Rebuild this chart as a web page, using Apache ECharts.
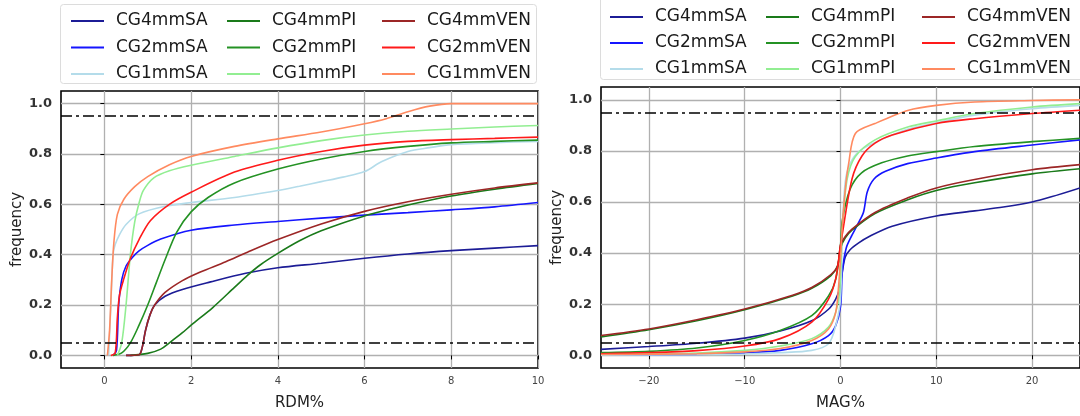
<!DOCTYPE html>
<html>
<head>
<meta charset="utf-8">
<script src="https://cdn.jsdelivr.net/npm/echarts@6/dist/echarts.min.js"></script>
<style>
html,body{margin:0;padding:0;background:#fff;}
#chart{width:1080px;height:416px;}
</style>
</head>
<body>
<div id="chart"></div>
<script>
// ---------- data ----------
const seriesNames = ['CG4mmSA','CG2mmSA','CG1mmSA','CG4mmPI','CG2mmPI','CG1mmPI','CG4mmVEN','CG2mmVEN','CG1mmVEN'];
const yTicks = [0, 0.2, 0.4, 0.6, 0.8, 1.0];
const rdmTicks = [0, 2, 4, 6, 8, 10];
const magTicks = [-20, -10, 0, 10, 20];
const thresholdLines = [0.95, 0.05];

// RDM% (left panel)
const rdm_CG4mmSA = [[0.5,0],[0.8,0.003],[0.87,0.03],[0.95,0.1],[1.05,0.16],[1.16,0.2],[1.4,0.235],[1.8,0.262],[2.45,0.292],[3.26,0.326],[4,0.348],[5,0.366],[6,0.386],[7,0.403],[8,0.416],[9,0.426],[10,0.436]];
const rdm_CG2mmSA = [[0.2,0],[0.28,0.02],[0.33,0.2],[0.4,0.3],[0.5,0.355],[0.65,0.39],[0.8,0.415],[1.0,0.437],[1.3,0.462],[2,0.497],[3,0.518],[4,0.532],[5,0.545],[6,0.557],[7,0.567],[8,0.578],[9,0.59],[10,0.607]];
const rdm_CG1mmSA = [[0.1,0],[0.15,0.2],[0.2,0.4],[0.25,0.44],[0.35,0.48],[0.5,0.52],[0.8,0.562],[1.4,0.592],[2,0.607],[3,0.627],[4,0.655],[4.5,0.672],[5,0.69],[5.5,0.708],[6,0.73],[6.4,0.77],[7,0.81],[7.5,0.825],[8,0.837],[9,0.845],[10,0.85]];
const rdm_CG4mmPI = [[0.6,0],[1.0,0.008],[1.3,0.025],[1.5,0.05],[1.8,0.09],[2,0.12],[2.5,0.19],[3,0.27],[3.3,0.318],[3.6,0.36],[4,0.405],[4.5,0.455],[5,0.495],[6,0.554],[7,0.597],[8,0.633],[9,0.66],[10,0.683]];
const rdm_CG2mmPI = [[0.2,0],[0.4,0.01],[0.6,0.05],[0.8,0.12],[1.0,0.2],[1.2,0.29],[1.4,0.38],[1.67,0.49],[2,0.57],[2.4,0.628],[3,0.685],[4,0.74],[5,0.78],[6,0.81],[7,0.83],[8,0.844],[9,0.85],[10,0.855]];
const rdm_CG1mmPI = [[0.3,0],[0.4,0.05],[0.5,0.2],[0.6,0.4],[0.7,0.53],[0.8,0.605],[0.9,0.655],[1.14,0.705],[1.5,0.733],[2,0.755],[3,0.79],[4,0.824],[5,0.853],[6,0.875],[7,0.89],[8,0.899],[9,0.907],[10,0.913]];
const rdm_CG4mmVEN = [[0.5,0],[0.8,0.003],[0.87,0.03],[0.95,0.1],[1.05,0.16],[1.16,0.2],[1.4,0.25],[1.8,0.297],[2.2,0.33],[2.8,0.372],[3.3,0.41],[4,0.46],[5,0.522],[6,0.572],[7,0.61],[8,0.64],[9,0.665],[10,0.685]];
const rdm_CG2mmVEN = [[0.15,0],[0.25,0.01],[0.3,0.15],[0.35,0.24],[0.45,0.305],[0.6,0.385],[0.8,0.46],[1.06,0.535],[1.5,0.6],[2,0.648],[3,0.728],[4,0.775],[5,0.81],[6,0.835],[7,0.85],[8,0.857],[9,0.862],[10,0.867]];
const rdm_CG1mmVEN = [[0.07,0],[0.12,0.1],[0.17,0.3],[0.22,0.45],[0.3,0.56],[0.45,0.62],[0.7,0.67],[1.0,0.71],[1.5,0.757],[2,0.79],[3,0.83],[4,0.86],[5,0.887],[6,0.92],[6.5,0.94],[7,0.968],[7.5,0.99],[8,1.0],[10,1.0]];

// MAG% (right panel)
const mag_CG4mmSA = [[-25,0.023],[-20,0.034],[-15,0.047],[-10,0.067],[-6.3,0.095],[-3,0.135],[-1.25,0.18],[-0.5,0.22],[-0.1,0.26],[0.2,0.33],[0.5,0.385],[1,0.413],[1.9,0.44],[3,0.465],[5.4,0.505],[10,0.545],[14,0.565],[17,0.58],[20,0.6],[22,0.62],[25,0.655]];
const mag_CG2mmSA = [[-25,0],[-15,0.003],[-10,0.009],[-6.3,0.019],[-3,0.045],[-1.25,0.077],[-0.5,0.116],[0,0.19],[0.2,0.33],[0.6,0.42],[1.2,0.47],[1.9,0.52],[2.4,0.56],[2.8,0.64],[3.5,0.69],[4.7,0.72],[7,0.75],[10,0.772],[14,0.797],[20,0.823],[25,0.843]];
const mag_CG1mmSA = [[-25,0],[-15,0.002],[-10,0.005],[-6.3,0.01],[-3,0.019],[-1.25,0.045],[-0.5,0.116],[0,0.22],[0.2,0.5],[0.5,0.68],[1,0.75],[2,0.8],[4,0.84],[7,0.885],[10,0.91],[14,0.94],[20,0.965],[25,0.978]];
const mag_CG4mmPI = [[-25,0.072],[-20,0.1],[-15,0.135],[-10,0.178],[-5,0.232],[-3,0.262],[-1,0.312],[-0.3,0.35],[0,0.42],[0.5,0.46],[1.2,0.49],[3.6,0.555],[7.1,0.61],[10,0.645],[14,0.675],[20,0.71],[25,0.73]];
const mag_CG2mmPI = [[-25,0.01],[-20,0.015],[-15,0.028],[-10,0.058],[-6.3,0.097],[-3,0.155],[-1.25,0.232],[-0.5,0.297],[0,0.43],[0.2,0.53],[1,0.65],[2.2,0.714],[4.3,0.753],[7,0.78],[10,0.797],[14,0.817],[20,0.836],[25,0.849]];
const mag_CG1mmPI = [[-25,0.004],[-15,0.009],[-10,0.019],[-6.3,0.036],[-3,0.065],[-1.25,0.11],[-0.5,0.168],[-0.1,0.245],[0.2,0.5],[0.7,0.69],[1.55,0.778],[3.6,0.843],[7.1,0.894],[10,0.917],[14,0.946],[20,0.972],[25,0.985]];
const mag_CG4mmVEN = [[-25,0.077],[-20,0.103],[-15,0.139],[-10,0.181],[-5,0.235],[-3,0.265],[-1,0.316],[-0.3,0.35],[0,0.43],[0.5,0.465],[1.2,0.494],[3.6,0.559],[7.1,0.617],[10,0.655],[14,0.688],[20,0.726],[25,0.746]];
const mag_CG2mmVEN = [[-25,0.006],[-20,0.01],[-15,0.018],[-10,0.036],[-6.3,0.065],[-3,0.13],[-1.25,0.22],[-0.5,0.3],[0,0.43],[0.17,0.47],[1.2,0.69],[2.24,0.78],[3.6,0.83],[5.4,0.862],[10,0.907],[14,0.926],[20,0.946],[25,0.959]];
const mag_CG1mmVEN = [[-25,0.003],[-15,0.006],[-10,0.013],[-6.3,0.026],[-3,0.058],[-1.25,0.103],[-0.5,0.168],[-0.2,0.27],[0,0.38],[0.17,0.494],[0.5,0.65],[0.86,0.752],[1.55,0.868],[3.6,0.907],[7.1,0.959],[10,0.978],[14,0.991],[20,0.997],[25,1.0]];

const rdmData = [rdm_CG4mmSA, rdm_CG2mmSA, rdm_CG1mmSA, rdm_CG4mmPI, rdm_CG2mmPI, rdm_CG1mmPI, rdm_CG4mmVEN, rdm_CG2mmVEN, rdm_CG1mmVEN];
const magData = [mag_CG4mmSA, mag_CG2mmSA, mag_CG1mmSA, mag_CG4mmPI, mag_CG2mmPI, mag_CG1mmPI, mag_CG4mmVEN, mag_CG2mmVEN, mag_CG1mmVEN];

// ---------- styles ----------
const lineColors = ['#1c1c96','#1515ff','#b4dcea','#1a7a1a','#249224','#92ee92','#9c2626','#ff1a1a','#ff8a60'];
const FONT = 'DejaVu Sans, sans-serif';

const chart = echarts.init(document.getElementById('chart'), null, {renderer: 'canvas'});

function fmtNum(v) {
  const s = Number.isInteger(v) ? String(v) : v.toFixed(1);
  return s.replace('-', '\u2212');
}

function xAxisCfg(gridIndex, min, max, ticks, name) {
  return {
    type: 'value', gridIndex, min, max,
    name, nameLocation: 'middle', nameGap: 28,
    nameTextStyle: {fontFamily: FONT, fontSize: 15, color: '#222'},
    axisLine: {show: false},
    axisTick: {show: true, length: 4, customValues: ticks, lineStyle: {color: '#000', width: 1}},
    axisLabel: {customValues: ticks, fontFamily: FONT, fontSize: 10, color: '#444', margin: 8, formatter: fmtNum},
    splitLine: {show: true, lineStyle: {color: '#b0b0b0', width: 1.3}}
  };
}
function yAxisCfg(gridIndex) {
  return {
    type: 'value', gridIndex, min: -0.05, max: 1.05,
    name: 'frequency', nameLocation: 'middle', nameGap: 36, nameRotate: 90,
    nameTextStyle: {fontFamily: FONT, fontSize: 15, color: '#222'},
    axisLine: {show: false},
    axisTick: {show: true, length: 4, customValues: yTicks, lineStyle: {color: '#000', width: 1}},
    axisLabel: {customValues: yTicks, fontFamily: FONT, fontSize: 13, fontWeight: 'bold', color: '#333', margin: 9, formatter: v => v.toFixed(1)},
    splitLine: {show: true, lineStyle: {color: '#b0b0b0', width: 1.3}}
  };
}

const series = [];
[rdmData, magData].forEach((set, gi) => {
  set.forEach((d, i) => {
    const s = {
      name: seriesNames[i], type: 'line', xAxisIndex: gi, yAxisIndex: gi,
      data: d, symbol: 'none', showSymbol: false,
      smooth: 0.3,
      lineStyle: {color: lineColors[i], width: 1.6},
      itemStyle: {color: lineColors[i]},
      emphasis: {disabled: true}, z: 2 + i * 0.1
    };
    if (i === 0) {
      s.markLine = {
        silent: true, symbol: 'none', label: {show: false}, animation: false,
        lineStyle: {color: '#000', width: 1.5, type: [11, 4, 3, 4]},
        data: thresholdLines.map(v => ({yAxis: v}))
      };
    }
    series.push(s);
  });
});

function legendCol(left, top, gap, names) {
  return {
    orient: 'vertical', left, top, itemWidth: 33, itemHeight: 2, itemGap: gap,
    icon: 'rect',
    data: names, selectedMode: false, z: 10,
    textStyle: {fontFamily: FONT, fontSize: 17, color: '#1a1a1a', padding: [0, 0, 0, 7], lineHeight: 20}
  };
}

const option = {
  animation: false,
  backgroundColor: '#fff',
  graphic: [
    {type: 'rect', shape: {x: 60.5, y: 4.5, width: 476, height: 79, r: 3}, style: {fill: '#fff', stroke: '#dcdcdc', lineWidth: 1}, z: 1},
    {type: 'rect', shape: {x: 600.5, y: -3.5, width: 490, height: 83, r: 3}, style: {fill: '#fff', stroke: '#dcdcdc', lineWidth: 1}, z: 1}
  ],
  legend: [
    legendCol(66, 6, 6.5, seriesNames.slice(0, 3)),
    legendCol(222, 6, 6.5, seriesNames.slice(3, 6)),
    legendCol(377, 6, 6.5, seriesNames.slice(6, 9)),
    legendCol(605, 2, 6, seriesNames.slice(0, 3)),
    legendCol(761, 2, 6, seriesNames.slice(3, 6)),
    legendCol(917, 2, 6, seriesNames.slice(6, 9))
  ],
  grid: [
    {left: 61, top: 91, width: 477, height: 279, show: true, borderColor: '#000', borderWidth: 1.6, backgroundColor: 'transparent'},
    {left: 601, top: 87, width: 482, height: 282, show: true, borderColor: '#000', borderWidth: 1.6, backgroundColor: 'transparent'}
  ],
  xAxis: [
    xAxisCfg(0, -1, 10, rdmTicks, 'RDM%'),
    xAxisCfg(1, -25, 25, magTicks, 'MAG%')
  ],
  yAxis: [yAxisCfg(0), yAxisCfg(1)],
  series
};
chart.setOption(option);
</script>
</body>
</html>
